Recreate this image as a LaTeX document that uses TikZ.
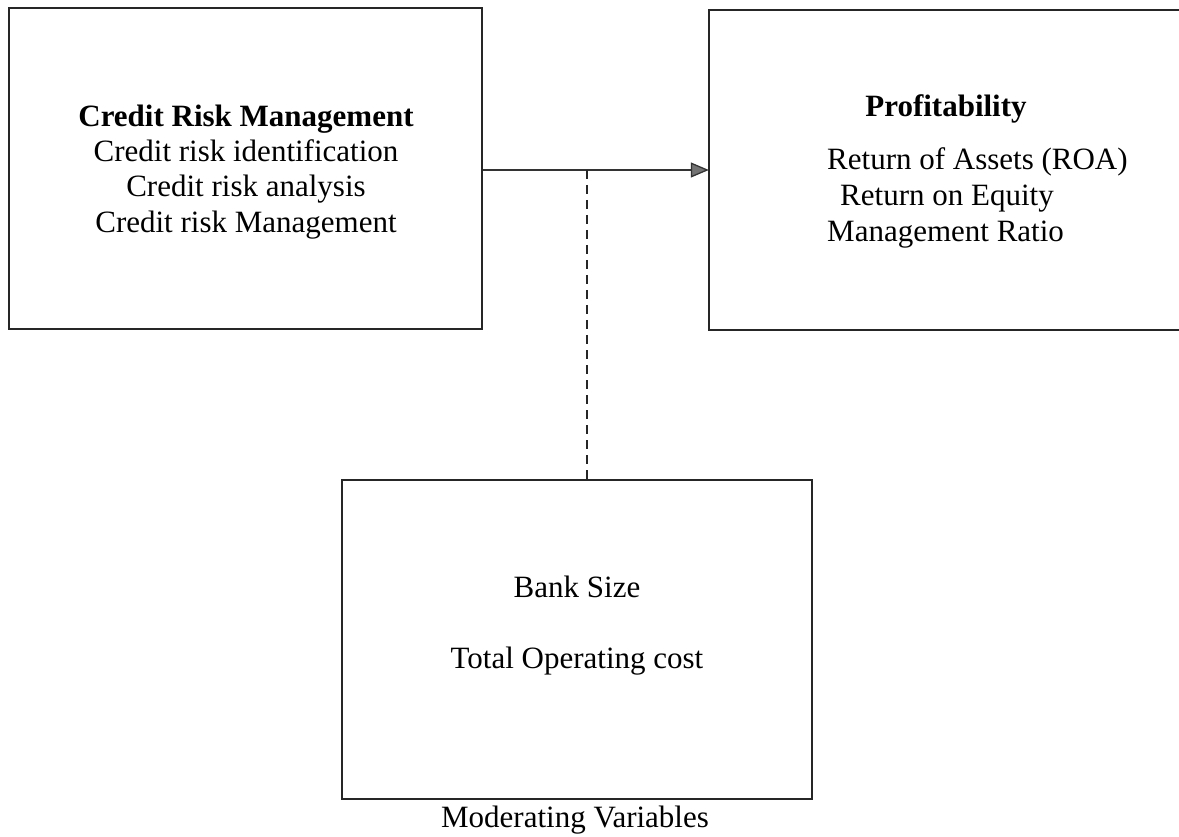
\documentclass[tikz,border=0pt]{standalone}
\usepackage{fontspec}
\setmainfont{Liberation Serif}
\usetikzlibrary{arrows.meta}
\begin{document}
\begin{tikzpicture}[x=1pt,y=-1pt,
  boxline/.style={draw=black!85,line width=2pt},
  txt/.style={inner sep=0pt,font=\fontsize{31}{37}\selectfont},
  btxt/.style={inner sep=0pt,font=\fontsize{31}{37}\selectfont\bfseries}]
\useasboundingbox (0,0) rectangle (1179,837);
% boxes
\node[boxline,minimum width=473pt,minimum height=321pt,inner sep=0pt] (crm) at (245.5,168.5) {};
\node[inner sep=0pt,minimum width=470pt,minimum height=320pt] (prof) at (944,170) {};
\node[boxline,minimum width=470pt,minimum height=319pt,inner sep=0pt] (mod) at (577,639.5) {};
\draw[boxline] (prof.north east) -- (prof.north west) -- (prof.south west) -- (prof.south east);
% texts box 1
\node[btxt,anchor=base] (t1) at (246,127) {Credit Risk Management};
\node[txt,anchor=base] (t2) at (246,162) {Credit risk identification};
\node[txt,anchor=base] (t3) at (246,197) {Credit risk analysis};
\node[txt,anchor=base] (t4) at (246,233) {Credit risk Management};
% texts box 2
\node[btxt,anchor=base] (p1) at (946,117) {Profitability};
\node[txt,anchor=base west] (p2) at (827,170) {Return of Assets (ROA)};
\node[txt,anchor=base west] (p3) at (840,206) {Return on Equity};
\node[txt,anchor=base west] (p4) at (827,242) {Management Ratio};
% texts box 3
\node[txt,anchor=base] (m1) at (577,597) {Bank Size};
\node[txt,anchor=base] (m2) at (577,668) {Total Operating cost};
\node[txt,anchor=base] (m3) at (575,827) {Moderating Variables};
% connectors
\coordinate (a) at (crm.east |- 0,170);
\coordinate (b) at (prof.west |- 0,170);
\coordinate (j) at (587,170);
\draw[line width=1.3pt,draw=black!80,-{Triangle[length=18pt,width=15pt,fill=black!55]}] (a) -- (b);
\draw[line width=1.6pt,draw=black!85,dash pattern=on 9pt off 6pt] (j) -- (j |- mod.north);
\end{tikzpicture}
\end{document}
